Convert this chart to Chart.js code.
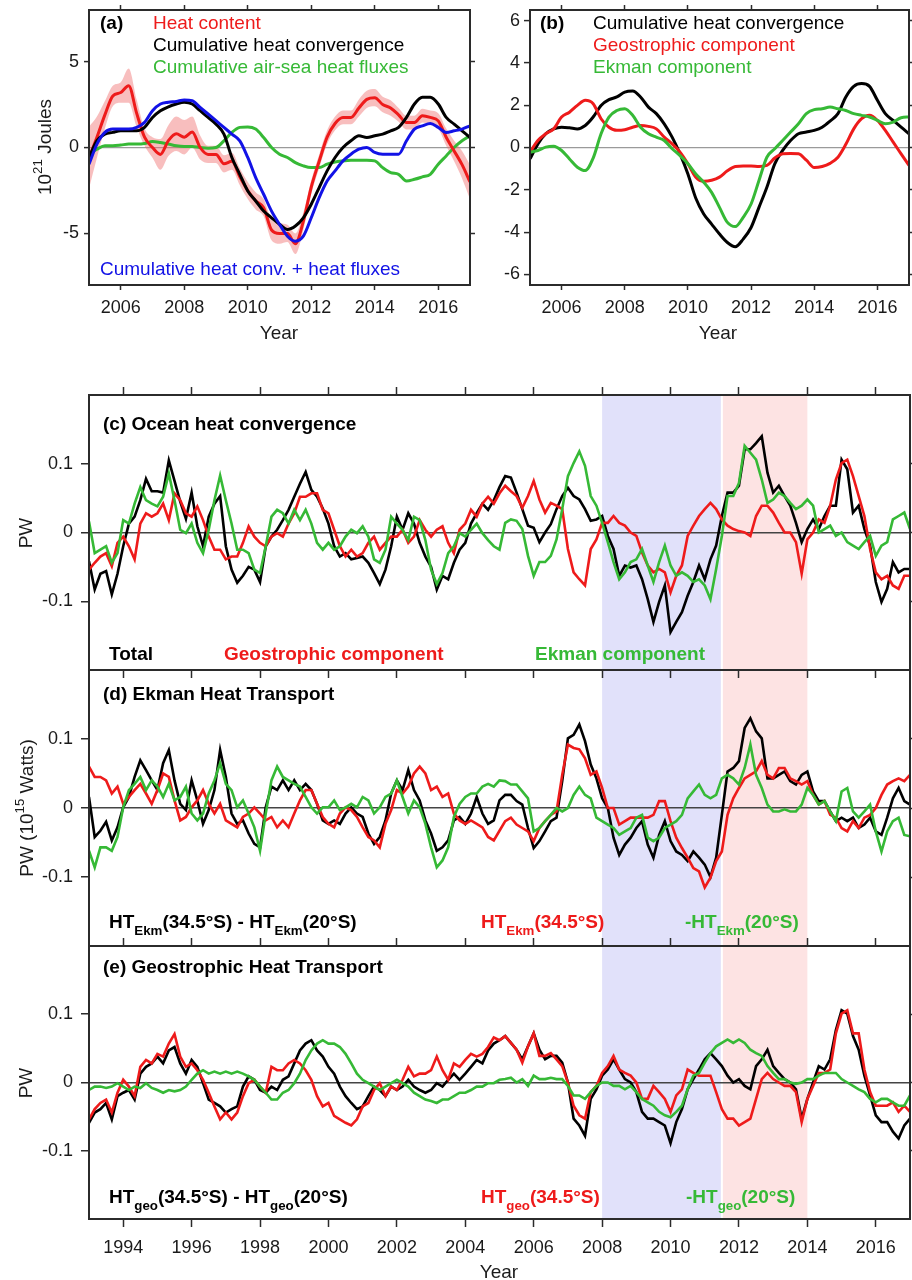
<!DOCTYPE html>
<html>
<head>
<meta charset="utf-8">
<title>Heat content and heat transport</title>
<script src="https://cdn.jsdelivr.net/npm/chart.js@4.4.1/dist/chart.umd.min.js"></script>
<style>
  body { margin: 0; background: #fff; }
  .panel { position: absolute; }
</style>
</head>
<body>
<canvas id="panelA" class="panel" width="480" height="350" style="left:0;top:0"></canvas>
<canvas id="panelB" class="panel" width="432" height="350" style="left:480px;top:0"></canvas>
<canvas id="panelD" class="panel" width="912" height="300" style="left:0;top:660px;z-index:1"></canvas>
<canvas id="panelC" class="panel" width="912" height="310" style="left:0;top:380px;z-index:2"></canvas>
<canvas id="panelE" class="panel" width="912" height="350" style="left:0;top:930px;z-index:2"></canvas>
<script>
// time axes: quarterly for (a)/(b), every two months for (c)-(e)
const yearsAB = [];
for (let i = 0; i <= 48; i++) yearsAB.push(2005 + i / 4);
const yearsCE = [];
for (let i = 0; i <= 144; i++) yearsCE.push(1993 + i / 6);

const ticksYearAB = [2006, 2008, 2010, 2012, 2014, 2016];
const ticksYearCE = [1994, 1996, 1998, 2000, 2002, 2004, 2006, 2008, 2010, 2012, 2014, 2016];
const ticksJoules = [-5, 0, 5];
const ticksB = [-6, -4, -2, 0, 2, 4, 6];
const ticksPW = [-0.1, 0, 0.1];
const periodBlue = [2008, 2011.5];
const periodPink = [2011.5, 2014];

// (a) 10^21 J
const aHeatContent = [-0.6, 0.6, 1.9, 3.0, 3.2, 3.6, 2.0, 0.6, 0.0, -0.4, 0.4, 0.8, 0.6, 0.9, 0.0, -0.4,
  -0.4, -0.95, -0.8, -1.7, -2.5, -3.1, -3.5, -4.8, -5.0, -5.0, -5.6, -4.3, -2.3, -0.8, 0.6, 1.4,
  1.75, 1.75, 2.3, 2.8, 2.9, 2.5, 2.3, 1.9, 1.45, 1.45, 1.85, 1.75, 1.55, 0.6, -0.2, -1.0, -2.0];
const aHeatContentErr = [1.8, 1.2, 0.8, 0.6, 0.6, 1.0, 0.8, 0.5, 0.6, 0.9, 0.9, 1.0, 1.0, 0.9, 0.7, 0.5,
  0.5, 0.5, 0.5, 0.5, 0.5, 0.5, 0.5, 0.6, 0.6, 0.5, 0.6, 0.5, 0.4, 0.4, 0.4, 0.4,
  0.4, 0.4, 0.5, 0.5, 0.5, 0.45, 0.45, 0.4, 0.4, 0.4, 0.4, 0.4, 0.45, 0.5, 0.6, 0.8, 1.0];
const aConvergence = [-0.6, 0.4, 0.78, 0.88, 0.97, 0.97, 0.97, 1.17, 1.75, 2.14, 2.37, 2.53, 2.63, 2.53, 2.14, 1.75,
  1.36, 0.78, -0.58, -1.56, -2.53, -3.11, -3.7, -4.09, -4.47, -4.77, -4.57, -4.09, -3.3, -2.33, -1.36, -0.58,
  0, 0.39, 0.68, 0.58, 0.68, 0.78, 0.97, 1.17, 1.75, 2.53, 2.92, 2.92, 2.53, 1.75, 1.36, 0.97, 0.58];
const aAirSea = [-0.39, -0.1, 0.1, 0.1, 0.14, 0.2, 0.2, 0.23, 0.35, 0.29, 0.2, 0.1, 0.06, 0.06, 0, -0.04,
  0, 0.39, 0.88, 1.17, 1.2, 1.07, 0.58, 0, -0.39, -0.58, -0.88, -1.07, -1.17, -1.17, -0.97, -0.84,
  -0.78, -0.74, -0.74, -0.74, -0.78, -1.17, -1.46, -1.56, -1.95, -1.85, -1.71, -1.56, -0.97, -0.49, 0, 0.39, 0.68];
const aConvPlusFlux = [-0.97, 0.2, 0.88, 1.07, 1.07, 1.07, 1.17, 1.46, 2.14, 2.53, 2.63, 2.68, 2.76, 2.72, 2.33, 1.95,
  1.56, 1.17, 0.78, 0.39, -0.58, -1.75, -2.72, -3.7, -4.47, -5.16, -5.45, -5.16, -4.09, -2.92, -1.95, -1.36,
  -0.78, -0.39, -0.1, 0, -0.29, -0.39, -0.39, -0.39, 0.39, 1.07, 1.26, 1.4, 1.17, 0.88, 0.97, 1.07, 1.26];

// (b) 10^21 J
const bConvergence = [-0.54, 0.17, 0.65, 0.88, 0.96, 0.93, 0.88, 1.04, 1.44, 1.99, 2.26, 2.39, 2.62, 2.67, 2.39, 1.91,
  1.6, 1.12, 0.49, -0.3, -1.25, -2.4, -3.14, -3.62, -4.09, -4.49, -4.69, -4.33, -3.78, -2.83, -1.88, -0.77,
  -0.14, 0.33, 0.65, 0.73, 0.81, 0.96, 1.25, 1.6, 2.39, 2.89, 3.02, 2.89, 2.23, 1.6, 1.28, 0.96, 0.65];
const bGeostrophic = [-0.22, 0.33, 0.65, 0.88, 1.44, 1.67, 1.99, 2.23, 2.07, 1.36, 0.96, 0.81, 0.84, 0.96, 1.04, 1.0,
  0.88, 0.49, 0.17, -0.22, -0.77, -1.41, -1.6, -1.55, -1.4, -1.1, -0.9, -0.88, -0.88, -0.9, -0.85, -0.5,
  -0.3, -0.28, -0.3, -0.6, -0.95, -0.9, -0.75, -0.46, 0.15, 0.88, 1.36, 1.52, 1.28, 0.81, 0.25, -0.3, -0.85];
const bEkman = [-0.22, -0.14, 0.02, 0.06, -0.14, -0.54, -0.93, -1.09, -0.5, 0.65, 1.44, 1.75, 1.83, 1.52, 0.96, 0.65,
  0.49, 0.33, -0.06, -0.38, -0.77, -1.25, -1.64, -2.12, -2.83, -3.54, -3.74, -3.3, -2.67, -1.56, -0.46, -0.06,
  0.33, 0.73, 1.12, 1.6, 1.79, 1.83, 1.91, 1.83, 1.75, 1.6, 1.52, 1.44, 1.28, 1.12, 1.2, 1.41, 1.44];

// (c) ocean heat convergence, PW
const cTotal = [-0.042, -0.083, -0.06, -0.056, -0.09, -0.06, -0.02, 0.013, 0.023, 0.047, 0.078, 0.06,
  0.06, 0.058, 0.105, 0.075, 0.045, 0.02, 0.058, 0.009, -0.02, 0.023, 0.042, 0.053,
  -0.02, -0.054, -0.073, -0.063, -0.05, -0.054, -0.072, -0.02, -0.006, 0.004, 0.018, 0.033,
  0.052, 0.071, 0.088, 0.062, 0.052, 0.035, 0.013, -0.02, -0.035, -0.03, -0.039, -0.037,
  -0.035, -0.044, -0.059, -0.075, -0.054, -0.02, 0.023, 0.004, 0.028, 0.013, -0.015, -0.035,
  -0.05, -0.083, -0.063, -0.068, -0.044, -0.025, -0.015, 0.013, 0.028, 0.042, 0.033, 0.047,
  0.066, 0.082, 0.08, 0.058, 0.034, 0.01, 0.007, -0.014, 0, 0.012, 0.034, 0.053,
  0.065, 0.053, 0.048, 0.034, 0.017, 0.019, 0.024, -0.005, -0.024, -0.063, -0.048, -0.051,
  -0.048, -0.068, -0.097, -0.13, -0.101, -0.077, -0.145, -0.13, -0.116, -0.092, -0.072, -0.048,
  -0.068, -0.039, -0.019, 0.024, 0.058, 0.058, 0.068, 0.121, 0.121, 0.13, 0.14, 0.087,
  0.058, 0.068, 0.053, 0.039, 0.014, -0.014, 0.005, 0.019, 0.005, 0.024, 0.039, 0.039,
  0.106, 0.092, 0.029, 0.039, 0.005, -0.019, -0.072, -0.101, -0.082, -0.043, -0.058, -0.053, -0.053];
const cGeostrophic = [-0.054, -0.044, -0.035, -0.03, -0.049, -0.015, -0.006, -0.02, -0.039, 0.013, 0.028, 0.023,
  0.028, 0.042, 0.018, 0.057, 0.047, 0.028, 0.023, 0.038, 0.018, -0.006, -0.025, -0.025,
  -0.039, -0.035, -0.035, -0.015, 0.009, -0.006, -0.015, -0.02, -0.006, -0.001, -0.006, 0.013,
  0.028, 0.052, 0.052, 0.057, 0.057, 0.033, 0.028, 0.004, -0.02, -0.035, -0.025, -0.035,
  -0.03, -0.015, -0.006, -0.025, -0.015, -0.006, -0.006, 0.004, -0.015, -0.006, 0.018, 0.004,
  -0.006, 0.004, 0.009, -0.015, -0.03, 0.004, 0.013, 0.033, 0.023, 0.042, 0.052, 0.042,
  0.057, 0.068, 0.06, 0.053, 0.036, 0.053, 0.075, 0.048, 0.029, 0.043, 0.039, 0.034,
  -0.024, -0.058, -0.068, -0.077, -0.024, -0.01, 0.014, 0.014, 0.024, 0.014, 0.01, 0,
  -0.005, -0.029, -0.048, -0.058, -0.053, -0.058, -0.087, -0.063, -0.048, -0.005, 0.01, 0.024,
  0.034, 0.043, 0.034, 0.019, 0.01, 0.005, 0.002, 0, -0.005, 0.024, 0.039, 0.039,
  0.029, 0.014, 0, 0, -0.014, -0.06, -0.01, 0, 0.019, 0.014, 0.039, 0.077,
  0.101, 0.106, 0.082, 0.053, 0.024, -0.024, -0.058, -0.068, -0.063, -0.077, -0.082, -0.063, -0.063];
const cEkman = [0.016, -0.03, -0.025, -0.02, -0.044, -0.03, 0.018, 0.013, 0.042, 0.066, 0.047, 0.042,
  0.038, 0.052, 0.086, 0.047, 0.004, -0.001, 0.013, -0.015, -0.03, 0.004, 0.047, 0.083,
  0.047, 0.013, -0.025, -0.025, -0.03, -0.054, -0.059, -0.02, 0.023, 0.033, 0.028, 0.013,
  0.033, 0.018, 0.033, 0.013, -0.015, -0.025, -0.015, -0.025, -0.02, -0.006, 0.004, -0.001,
  0.009, -0.006, -0.039, -0.044, -0.025, 0.023, 0.013, 0.004, -0.011, 0.023, 0.018, -0.011,
  -0.054, -0.075, -0.059, -0.03, -0.02, -0.001, -0.006, 0.004, 0.013, -0.001, -0.011, -0.02,
  -0.025, 0.014, 0.019, 0.017, 0.005, -0.034, -0.063, -0.043, -0.043, -0.034, -0.01, 0.034,
  0.082, 0.101, 0.118, 0.097, 0.053, 0.039, 0.014, -0.014, -0.043, -0.068, -0.058, -0.043,
  -0.039, -0.024, -0.048, -0.072, -0.043, -0.019, -0.048, -0.063, -0.058, -0.063, -0.072, -0.068,
  -0.077, -0.097, -0.053, -0.005, 0.053, 0.053, 0.072, 0.126, 0.116, 0.106, 0.077, 0.043,
  0.048, 0.058, 0.053, 0.043, 0.034, 0.039, 0.048, 0.039, 0, 0.005, 0.01, -0.005,
  0, -0.014, -0.019, -0.024, -0.014, -0.005, -0.034, -0.019, -0.014, 0.019, 0.024, 0.029, 0.005];

// (d) Ekman heat transport, PW
const dTotal = [0.016, -0.042, -0.033, -0.02, -0.047, -0.028, 0.001, 0.016, 0.045, 0.069, 0.055, 0.04,
  0.026, 0.065, 0.084, 0.04, 0.006, -0.003, 0.04, 0.011, -0.023, -0.003, 0.026, 0.084,
  0.045, -0.008, -0.023, -0.018, -0.037, -0.052, -0.057, 0.001, 0.031, 0.026, 0.04, 0.026,
  0.04, 0.026, 0.035, 0.026, 0.006, -0.018, -0.023, -0.018, -0.023, -0.008, 0.001, -0.008,
  -0.013, -0.037, -0.052, -0.042, -0.018, 0.021, 0.04, 0.026, 0.055, 0.026, 0.011, -0.018,
  -0.037, -0.062, -0.057, -0.047, -0.018, -0.013, -0.023, -0.008, 0.016, -0.008, -0.023, -0.018,
  0.011, 0.019, 0.019, 0.01, 0.005, -0.029, -0.058, -0.048, -0.034, -0.019, -0.014, 0.039,
  0.101, 0.106, 0.121, 0.097, 0.063, 0.043, 0.014, 0, -0.043, -0.068, -0.053, -0.043,
  -0.029, -0.019, -0.053, -0.072, -0.039, -0.019, -0.048, -0.063, -0.068, -0.077, -0.063, -0.072,
  -0.082, -0.1, -0.072, -0.01, 0.053, 0.058, 0.068, 0.116, 0.13, 0.111, 0.101, 0.043,
  0.043, 0.048, 0.053, 0.039, 0.034, 0.048, 0.053, 0.024, 0.01, 0.01, -0.005, -0.019,
  -0.014, -0.019, -0.014, -0.029, -0.024, -0.014, -0.034, -0.039, -0.014, 0.014, 0.029, 0.01, 0.005];
const dHT34 = [0.06, 0.045, 0.045, 0.04, 0.021, 0.031, 0.006, 0.016, 0.026, 0.035, 0.021, 0.006,
  0.026, 0.05, 0.045, 0.011, -0.018, -0.013, 0.001, 0.011, 0.026, 0.006, -0.008, 0.006,
  -0.018, -0.023, -0.028, -0.013, -0.008, 0.001, -0.008, -0.018, -0.013, -0.028, -0.018, -0.028,
  -0.008, 0.011, 0.026, 0.026, 0.006, -0.013, -0.023, -0.028, -0.008, 0.001, -0.003, -0.013,
  -0.028, -0.042, -0.047, -0.057, -0.023, -0.003, 0.026, 0.021, 0.031, 0.05, 0.06, 0.05,
  0.026, 0.031, 0.016, 0.021, -0.008, -0.018, -0.023, -0.018, -0.023, -0.028, -0.042, -0.047,
  -0.033, -0.019, -0.014, -0.024, -0.029, -0.034, -0.048, -0.029, -0.019, -0.01, -0.005, 0.048,
  0.092, 0.087, 0.085, 0.072, 0.048, 0.053, 0.029, 0, 0, -0.024, -0.019, -0.014,
  -0.014, -0.014, -0.014, -0.01, 0.01, 0.01, -0.019, -0.043, -0.058, -0.072, -0.087, -0.092,
  -0.115, -0.101, -0.077, -0.063, -0.01, 0.014, 0.029, 0.043, 0.048, 0.053, 0.068, 0.048,
  0.043, 0.058, 0.058, 0.043, 0.039, 0.034, 0.039, 0.019, 0.005, 0.01, -0.01, -0.014,
  -0.029, -0.034, -0.019, -0.029, -0.014, -0.01, 0, 0.019, 0.034, 0.039, 0.043, 0.039, 0.048];
const dHT20 = [-0.062, -0.086, -0.057, -0.057, -0.062, -0.042, 0.001, 0.026, 0.035, 0.045, 0.026, 0.04,
  0.031, 0.016, 0.035, 0.011, 0.016, 0.031, -0.008, -0.018, -0.008, 0.021, 0.04, 0.065,
  0.035, 0.026, 0.001, 0.011, -0.008, -0.028, -0.062, -0.008, 0.04, 0.06, 0.045, 0.04,
  0.035, 0.031, 0.016, 0.001, -0.008, 0.001, 0.001, 0.011, -0.003, 0.001, 0.006, 0.001,
  0.016, 0.011, -0.008, 0.001, 0.016, 0.021, 0.04, 0.016, -0.008, 0.011, 0.001, -0.023,
  -0.057, -0.086, -0.076, -0.057, -0.013, 0.006, 0.016, 0.021, 0.021, 0.031, 0.035, 0.031,
  0.04, 0.039, 0.034, 0.034, 0.024, 0.014, -0.034, -0.029, -0.019, -0.01, 0, -0.005,
  0, 0.019, 0.031, 0.019, 0.014, -0.014, -0.019, -0.024, -0.029, -0.039, -0.034, -0.029,
  -0.014, -0.01, -0.043, -0.048, -0.043, -0.029, -0.024, -0.019, -0.01, 0.014, 0.024, 0.034,
  0.019, 0.014, 0.019, 0.043, 0.048, 0.043, 0.034, 0.058, 0.092, 0.048, 0.029, 0.005,
  -0.005, -0.005, -0.002, -0.005, -0.005, 0.005, 0.029, 0.019, 0.005, 0.01, -0.005, -0.019,
  0.024, 0.029, -0.005, -0.014, -0.005, 0.005, -0.034, -0.063, -0.034, -0.019, -0.014, -0.039, -0.041];

// (e) geostrophic heat transport, PW
const eTotal = [-0.059, -0.044, -0.039, -0.03, -0.054, -0.02, -0.015, -0.011, -0.025, 0.013, 0.023, 0.028,
  0.038, 0.028, 0.047, 0.052, 0.028, 0.013, 0.033, 0.023, -0.001, -0.025, -0.03, -0.035,
  -0.044, -0.039, -0.035, -0.006, 0.009, 0.004, -0.011, -0.015, -0.006, -0.011, 0.004, 0.009,
  0.028, 0.047, 0.057, 0.062, 0.047, 0.038, 0.023, 0.013, -0.006, -0.02, -0.03, -0.039,
  -0.035, -0.02, -0.006, -0.011, -0.02, -0.006, -0.011, -0.006, 0.004, -0.006, -0.011, -0.015,
  -0.011, -0.001, -0.006, 0.004, 0.013, 0.004, 0.013, 0.023, 0.033, 0.028, 0.047, 0.057,
  0.062, 0.068, 0.058, 0.048, 0.034, 0.053, 0.072, 0.048, 0.034, 0.039, 0.039, 0.029,
  0, -0.053, -0.063, -0.078, -0.024, -0.01, 0.01, 0.019, 0.034, 0.019, 0.005, 0,
  -0.014, -0.043, -0.053, -0.053, -0.058, -0.063, -0.089, -0.058, -0.039, -0.01, 0.005, 0.019,
  0.034, 0.043, 0.034, 0.024, 0.01, 0, 0.005, -0.005, -0.01, 0.024, 0.034, 0.048,
  0.024, 0.014, 0.005, 0, -0.01, -0.053, -0.024, 0, 0.024, 0.019, 0.034, 0.077,
  0.106, 0.101, 0.068, 0.048, 0.01, -0.019, -0.048, -0.058, -0.058, -0.072, -0.082, -0.063, -0.053];
const eHT34 = [-0.054, -0.039, -0.03, -0.025, -0.044, -0.015, 0.004, -0.006, -0.02, 0.023, 0.033, 0.028,
  0.042, 0.038, 0.057, 0.071, 0.038, 0.023, 0.028, 0.018, 0.004, -0.015, -0.035, -0.054,
  -0.044, -0.054, -0.044, -0.02, -0.001, 0.004, -0.006, -0.015, 0.023, 0.018, 0.018, 0.028,
  0.033, 0.028, 0.018, 0.004, -0.02, -0.035, -0.03, -0.049, -0.054, -0.059, -0.063, -0.054,
  -0.035, -0.03, -0.011, -0.001, -0.02, -0.006, -0.011, 0.004, 0.023, 0.009, 0.013, 0.013,
  0.018, 0.038, 0.018, 0.004, 0.028, 0.023, 0.033, 0.042, 0.038, 0.042, 0.052, 0.066,
  0.062, 0.068, 0.058, 0.048, 0.029, 0.053, 0.072, 0.039, 0.039, 0.043, 0.034, 0.024,
  0, -0.034, -0.048, -0.053, -0.014, -0.005, 0.014, 0.024, 0.039, 0.019, 0.014, 0.01,
  0, -0.024, -0.024, -0.005, -0.014, -0.024, -0.043, -0.019, -0.01, 0.019, 0.014, 0.01,
  0.01, 0.01, -0.014, -0.039, -0.053, -0.053, -0.063, -0.058, -0.053, -0.024, 0.005, 0.014,
  0.005, 0, -0.005, -0.005, -0.014, -0.058, -0.024, -0.005, 0.014, 0.014, 0.019, 0.072,
  0.101, 0.106, 0.072, 0.072, 0.019, -0.014, -0.034, -0.034, -0.034, -0.029, -0.043, -0.034, -0.043];
const eHT20 = [-0.011, -0.006, -0.006, -0.008, -0.006, -0.001, -0.006, -0.011, -0.006, -0.008, -0.001, -0.008,
  -0.011, -0.015, -0.011, -0.013, -0.011, -0.006, 0.004, 0.013, 0.018, 0.013, 0.016, 0.013,
  0.016, 0.013, 0.016, 0.013, 0.009, 0.004, -0.006, -0.015, -0.025, -0.025, -0.015, -0.011,
  -0.001, 0.013, 0.033, 0.047, 0.057, 0.062, 0.057, 0.057, 0.052, 0.042, 0.028, 0.013,
  0.004, -0.001, -0.006, -0.011, -0.006, -0.001, 0.004, -0.001, -0.006, -0.015, -0.02, -0.025,
  -0.027, -0.03, -0.025, -0.025, -0.02, -0.015, -0.015, -0.011, -0.006, -0.006, -0.001, -0.001,
  0.004, 0.005, 0.007, 0, 0.005, -0.005, 0.01, 0.005, 0.005, 0.007, 0.005, 0.005,
  -0.005, -0.019, -0.019, -0.024, -0.014, -0.005, 0, 0, -0.005, -0.005, -0.01, -0.005,
  -0.014, -0.024, -0.029, -0.034, -0.043, -0.048, -0.051, -0.043, -0.034, -0.01, 0.01, 0.014,
  0.029, 0.043, 0.053, 0.058, 0.063, 0.058, 0.063, 0.058, 0.048, 0.043, 0.039, 0.024,
  0.014, 0.005, 0.005, 0, -0.002, 0, 0.005, 0.005, 0.01, 0.014, 0.014, 0.014,
  0.005, 0, -0.005, -0.01, -0.014, -0.024, -0.029, -0.024, -0.024, -0.029, -0.034, -0.034, -0.019];

const FONT = "'Liberation Sans', Arial, Helvetica, sans-serif";
const FRAME = '#2b2b2b';
const RED = '#ee1b1b';
const GREEN = '#36b936';
const BLUE = '#1212e6';

function axis(o) {
  const horiz = o.position === 'top' || o.position === 'bottom';
  return {
    type: 'linear',
    position: o.position,
    min: o.min,
    max: o.max,
    afterBuildTicks: s => { s.ticks = o.ticks.map(v => ({ value: v })); },
    afterFit: s => {
      if (horiz) s.height = o.size; else s.width = o.size;
      s.paddingTop = s.paddingBottom = s.paddingLeft = s.paddingRight = 0;
    },
    border: { display: true, color: FRAME, width: 2, z: 1 },
    grid: {
      drawOnChartArea: !!o.zero,
      drawTicks: !!o.tick,
      tickLength: o.tick || 0,
      tickWidth: 1.5,
      tickColor: FRAME,
      lineWidth: o.zeroWidth || 1,
      color: c => (o.zero && c.tick && c.tick.value === 0) ? o.zero : 'rgba(0,0,0,0)'
    },
    ticks: {
      display: !!o.labels,
      padding: o.pad || 0,
      color: '#1a1a1a',
      font: { family: FONT, size: 18 },
      maxRotation: 0,
      autoSkip: false,
      callback: v => String(v)
    }
  };
}

function options(scales) {
  return {
    responsive: false,
    animation: false,
    events: [],
    layout: { padding: 0 },
    plugins: { legend: { display: false }, tooltip: { enabled: false } },
    scales
  };
}

function line(xs, ys, color, width, smooth) {
  return {
    data: xs.map((x, i) => ({ x, y: ys[i] })),
    borderColor: color,
    borderWidth: width,
    pointRadius: 0,
    fill: false,
    tension: 0,
    cubicInterpolationMode: smooth ? 'monotone' : 'default',
    xAxisID: 'x',
    yAxisID: 'y'
  };
}

// text with sub (-1) and superscript (1) pieces
function rich(ctx, x, y, parts, color, size, weight, align) {
  const fontFor = m => `${weight} ${m ? size * 0.7 : size}px ${FONT}`;
  ctx.fillStyle = color;
  ctx.textBaseline = 'alphabetic';
  ctx.textAlign = 'left';
  let total = 0;
  parts.forEach(([t, m]) => { ctx.font = fontFor(m); total += ctx.measureText(t).width; });
  let cx = align === 'center' ? x - total / 2 : x;
  parts.forEach(([t, m]) => {
    ctx.font = fontFor(m);
    const dy = m < 0 ? size * 0.38 : m > 0 ? -size * 0.45 : 0;
    ctx.fillText(t, cx, y + dy);
    cx += ctx.measureText(t).width;
  });
}

function vertical(ctx, cx, cy, parts, size) {
  ctx.save();
  ctx.translate(cx, cy);
  ctx.rotate(-Math.PI / 2);
  rich(ctx, 0, size * 0.35, parts, '#1a1a1a', size, 'normal', 'center');
  ctx.restore();
}

// draws in page coordinates
function annotate(ox, oy, draw) {
  return {
    id: 'annotate',
    afterDraw(chart) {
      const ctx = chart.ctx;
      ctx.save();
      ctx.translate(-ox, -oy);
      draw(ctx);
      ctx.restore();
    }
  };
}

const shadePlugin = {
  id: 'shade',
  beforeDraw(chart) {
    const { ctx, chartArea: a, scales: { x } } = chart;
    ctx.save();
    [[periodBlue, '#e1e1fa'], [periodPink, '#fde3e3']].forEach(([span, col]) => {
      const x0 = x.getPixelForValue(span[0]);
      const x1 = x.getPixelForValue(span[1]);
      ctx.fillStyle = col;
      ctx.fillRect(x0, a.top, x1 - x0, a.bottom - a.top);
    });
    const seam = x.getPixelForValue(periodPink[0]);
    ctx.fillStyle = '#ffffff';
    ctx.fillRect(seam - 1, a.top, 2, a.bottom - a.top);
    ctx.restore();
  }
};

// ---------- (a) ----------
new Chart(document.getElementById('panelA'), {
  type: 'line',
  data: {
    datasets: [
      line(yearsAB, aConvPlusFlux, BLUE, 3, true),
      line(yearsAB, aConvergence, '#000', 3, true),
      line(yearsAB, aHeatContent, RED, 3, true),
      line(yearsAB, aAirSea, GREEN, 3, true),
      Object.assign(line(yearsAB, aHeatContent.map((v, i) => v + aHeatContentErr[i]), 'rgba(0,0,0,0)', 0, true),
        { fill: '+1', backgroundColor: 'rgba(240,110,110,0.45)' }),
      line(yearsAB, aHeatContent.map((v, i) => v - aHeatContentErr[i]), 'rgba(0,0,0,0)', 0, true)
    ]
  },
  options: options({
    x: axis({ position: 'bottom', min: 2005, max: 2017, ticks: ticksYearAB, labels: true, tick: 5, pad: 7, size: 65 }),
    xTop: axis({ position: 'top', min: 2005, max: 2017, ticks: ticksYearAB, tick: 5, size: 10 }),
    y: axis({ position: 'left', min: -8, max: 8, ticks: ticksJoules, labels: true, tick: 5, pad: 5, size: 89, zero: '#9a9a9a', zeroWidth: 1.2 }),
    yRight: axis({ position: 'right', min: -8, max: 8, ticks: ticksJoules, tick: 5, size: 10 })
  }),
  plugins: [annotate(0, 0, ctx => {
    rich(ctx, 100, 29, [['(a)', 0]], '#000', 19, 'bold');
    rich(ctx, 153, 29, [['Heat content', 0]], RED, 19, 'normal');
    rich(ctx, 153, 51, [['Cumulative heat convergence', 0]], '#000', 19, 'normal');
    rich(ctx, 153, 73, [['Cumulative air-sea heat fluxes', 0]], GREEN, 19, 'normal');
    rich(ctx, 100, 275, [['Cumulative heat conv. + heat fluxes', 0]], BLUE, 19, 'normal');
    rich(ctx, 279, 339, [['Year', 0]], '#1a1a1a', 19, 'normal', 'center');
    vertical(ctx, 44, 147, [['10', 0], ['21', 1], [' Joules', 0]], 19);
  })]
});

// ---------- (b) ----------
new Chart(document.getElementById('panelB'), {
  type: 'line',
  data: {
    datasets: [
      line(yearsAB, bEkman, GREEN, 3, true),
      line(yearsAB, bGeostrophic, RED, 3, true),
      line(yearsAB, bConvergence, '#000', 3, true)
    ]
  },
  options: options({
    x: axis({ position: 'bottom', min: 2005, max: 2017, ticks: ticksYearAB, labels: true, tick: 5, pad: 7, size: 65 }),
    xTop: axis({ position: 'top', min: 2005, max: 2017, ticks: ticksYearAB, tick: 5, size: 10 }),
    y: axis({ position: 'left', min: -6.5, max: 6.5, ticks: ticksB, labels: true, tick: 6, pad: 4, size: 50, zero: '#9a9a9a', zeroWidth: 1.2 }),
    yRight: axis({ position: 'right', min: -6.5, max: 6.5, ticks: ticksB, tick: 5, size: 3 })
  }),
  plugins: [annotate(480, 0, ctx => {
    rich(ctx, 540, 29, [['(b)', 0]], '#000', 19, 'bold');
    rich(ctx, 593, 29, [['Cumulative heat convergence', 0]], '#000', 19, 'normal');
    rich(ctx, 593, 51, [['Geostrophic component', 0]], RED, 19, 'normal');
    rich(ctx, 593, 73, [['Ekman component', 0]], GREEN, 19, 'normal');
    rich(ctx, 718, 339, [['Year', 0]], '#1a1a1a', 19, 'normal', 'center');
  })]
});

function pwScales(top, bottom) {
  return options({
    x: axis(Object.assign({ position: 'bottom', min: 1993, max: 2017, ticks: ticksYearCE }, bottom)),
    xTop: axis(Object.assign({ position: 'top', min: 1993, max: 2017, ticks: ticksYearCE }, top)),
    y: axis({ position: 'left', min: -0.2, max: 0.2, ticks: ticksPW, labels: true, tick: 8, pad: 8, size: 89, zero: '#444', zeroWidth: 1.5 }),
    yRight: axis({ position: 'right', min: -0.2, max: 0.2, ticks: ticksPW, tick: 8, size: 2 })
  });
}

// ---------- (c) ----------
new Chart(document.getElementById('panelC'), {
  type: 'line',
  data: {
    datasets: [
      line(yearsCE, cEkman, GREEN, 2.6),
      line(yearsCE, cGeostrophic, RED, 2.6),
      line(yearsCE, cTotal, '#000', 2.6)
    ]
  },
  options: pwScales({ tick: 8, size: 15 }, { tick: 8, size: 20 }),
  plugins: [shadePlugin, annotate(0, 380, ctx => {
    rich(ctx, 103, 430, [['(c) Ocean heat convergence', 0]], '#000', 19, 'bold');
    rich(ctx, 109, 660, [['Total', 0]], '#000', 19, 'bold');
    rich(ctx, 224, 660, [['Geostrophic component', 0]], RED, 19, 'bold');
    rich(ctx, 535, 660, [['Ekman component', 0]], GREEN, 19, 'bold');
    vertical(ctx, 25, 533, [['PW', 0]], 19);
  })]
});

// ---------- (d) ----------
new Chart(document.getElementById('panelD'), {
  type: 'line',
  data: {
    datasets: [
      line(yearsCE, dHT20, GREEN, 2.6),
      line(yearsCE, dHT34, RED, 2.6),
      line(yearsCE, dTotal, '#000', 2.6)
    ]
  },
  options: pwScales({ size: 10 }, { size: 14 }),
  plugins: [shadePlugin, annotate(0, 660, ctx => {
    rich(ctx, 103, 700, [['(d) Ekman Heat Transport', 0]], '#000', 19, 'bold');
    rich(ctx, 109, 928, [['HT', 0], ['Ekm', -1], ['(34.5°S) - HT', 0], ['Ekm', -1], ['(20°S)', 0]], '#000', 19, 'bold');
    rich(ctx, 481, 928, [['HT', 0], ['Ekm', -1], ['(34.5°S)', 0]], RED, 19, 'bold');
    rich(ctx, 685, 928, [['-HT', 0], ['Ekm', -1], ['(20°S)', 0]], GREEN, 19, 'bold');
    vertical(ctx, 26, 808, [['PW (10', 0], ['15', 1], [' Watts)', 0]], 19);
  })]
});

// ---------- (e) ----------
new Chart(document.getElementById('panelE'), {
  type: 'line',
  data: {
    datasets: [
      line(yearsCE, eHT20, GREEN, 2.6),
      line(yearsCE, eHT34, RED, 2.6),
      line(yearsCE, eTotal, '#000', 2.6)
    ]
  },
  options: pwScales({ tick: 8, size: 16 }, { tick: 8, size: 61, labels: true, pad: 10 }),
  plugins: [shadePlugin, annotate(0, 930, ctx => {
    rich(ctx, 103, 973, [['(e) Geostrophic Heat Transport', 0]], '#000', 19, 'bold');
    rich(ctx, 109, 1203, [['HT', 0], ['geo', -1], ['(34.5°S) - HT', 0], ['geo', -1], ['(20°S)', 0]], '#000', 19, 'bold');
    rich(ctx, 481, 1203, [['HT', 0], ['geo', -1], ['(34.5°S)', 0]], RED, 19, 'bold');
    rich(ctx, 686, 1203, [['-HT', 0], ['geo', -1], ['(20°S)', 0]], GREEN, 19, 'bold');
    vertical(ctx, 25, 1083, [['PW', 0]], 19);
    rich(ctx, 499, 1278, [['Year', 0]], '#1a1a1a', 19, 'normal', 'center');
  })]
});
</script>
</body>
</html>
